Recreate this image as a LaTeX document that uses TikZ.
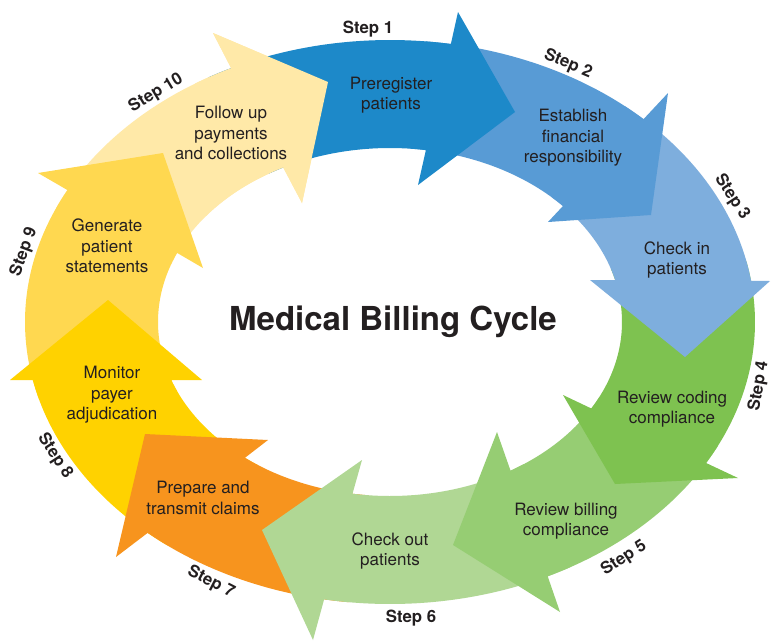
\documentclass[tikz,border=0pt]{standalone}
\usepackage{fontspec}
\setmainfont{TeX Gyre Heros}
\definecolor{c1}{HTML}{1D89C9}
\definecolor{c2}{HTML}{589BD5}
\definecolor{c3}{HTML}{7EAEDD}
\definecolor{c4}{HTML}{7EC250}
\definecolor{c5}{HTML}{96CD73}
\definecolor{c6}{HTML}{B0D794}
\definecolor{c7}{HTML}{F7941E}
\definecolor{c8}{HTML}{FFD200}
\definecolor{c9}{HTML}{FFD850}
\definecolor{c10}{HTML}{FFE9A8}
\definecolor{tc}{HTML}{231F20}
% #1 colour, #2 outer start, #3 outer end, #4 inner start, #5 inner end, #6 outer barb, #7 tip, #8 inner barb
\newcommand\ringseg[8]{%
  \fill[#1] plot[domain=#2:#3,samples=45] ({390+365*cos(\x)},{322-282*sin(\x)})
    -- #6 -- #7 -- #8
    -- plot[domain=#5:#4,samples=45] ({390+232*cos(\x)},{322-174*sin(\x)}) -- cycle;}
\begin{document}
\begin{tikzpicture}[x=1pt,y=-1pt,
  txt/.style={align=center,text=tc,inner sep=0pt,font=\fontsize{17}{20.4}\selectfont},
  steplabel/.style={text=tc,inner sep=0pt,font=\bfseries\fontsize{16.8}{20}\selectfont},
  titlelabel/.style={text=tc,inner sep=0pt,font=\bfseries\fontsize{33}{36}\selectfont}]
\useasboundingbox (0,0) rectangle (772,641);
\fill[white] (0,0) rectangle (772,641);
% segments, drawn from step 10 down to step 1
\ringseg{c10}{-203.9}{-244.2}{-199.4}{-242.6}{(213,33)}{(328,82)}{(302,203)}
\ringseg{c9}{-164.1}{-207.9}{-156.5}{-203.4}{(38,173)}{(163,153)}{(203,268)}
\ringseg{c8}{-127.6}{-168.1}{-124.7}{-160.5}{(10,380)}{(108,300)}{(202,380)}
\ringseg{c7}{-96.4}{-131.6}{-95.3}{-128.7}{(116,557)}{(145,434)}{(268,440)}
\ringseg{c6}{-60.4}{-100.4}{-54.7}{-99.3}{(313,640)}{(262,530)}{(362,460)}
\ringseg{c5}{-26.0}{-64.4}{-25.8}{-58.7}{(560,612)}{(453,545)}{(497,432)}
\ringseg{c4}{12.4}{-30.0}{17.9}{-29.8}{(738,478)}{(615,484)}{(563,395)}
\ringseg{c3}{50.0}{8.4}{45.8}{13.9}{(770,281)}{(685,357)}{(590,280)}
\ringseg{c2}{84.4}{46.0}{85.1}{41.8}{(668,93)}{(651,215)}{(548,222)}
\ringseg{c1}{119.8}{80.4}{121.4}{81.1}{(458,12)}{(515,112)}{(418,185)}
% step 10 head lies over the tail of step 1
\begin{scope}
  \clip (195,0) rectangle (345,215);
  \ringseg{c10}{-203.9}{-244.2}{-199.4}{-242.6}{(213,33)}{(328,82)}{(302,203)}
\end{scope}
% texts
\node[txt] (t1) at (391,95) {Preregister\\patients};
\node[txt] (t2) at (573,138) {Establish\\financial\\responsibility};
\node[txt] (t3) at (677,260) {Check in\\patients};
\node[txt] (t4) at (672,409) {Review coding\\compliance};
\node[txt] (t5) at (566,521) {Review billing\\compliance};
\node[txt] (t6) at (390,551) {Check out\\patients};
\node[txt] (t7) at (203,498) {Prepare and\\transmit claims};
\node[txt] (t8) at (112,395) {Monitor\\payer\\adjudication};
\node[txt] (t9) at (107,246) {Generate\\patient\\statements};
\node[txt] (t10) at (231,133) {Follow up\\payments\\and collections};
% step labels
\node[steplabel] (s1) at (368,29) {Step 1};
\node[steplabel,rotate=-23] (s2) at (568,64) {Step 2};
\node[steplabel,rotate=-57] (s3) at (732,197) {Step 3};
\node[steplabel,rotate=80] (s4) at (759,386) {Step 4};
\node[steplabel,rotate=33] (s5) at (624,558) {Step 5};
\node[steplabel] (s6) at (411,618) {Step 6};
\node[steplabel,rotate=-27] (s7) at (211,582) {Step 7};
\node[steplabel,rotate=-57] (s8) at (55,456) {Step 8};
\node[steplabel,rotate=70] (s9) at (24,252) {Step 9};
\node[steplabel,rotate=31] (s10) at (156,93) {Step 10};
% title
\node[titlelabel,anchor=base] (title) at (393,330) {Medical Billing Cycle};
\end{tikzpicture}
\end{document}
